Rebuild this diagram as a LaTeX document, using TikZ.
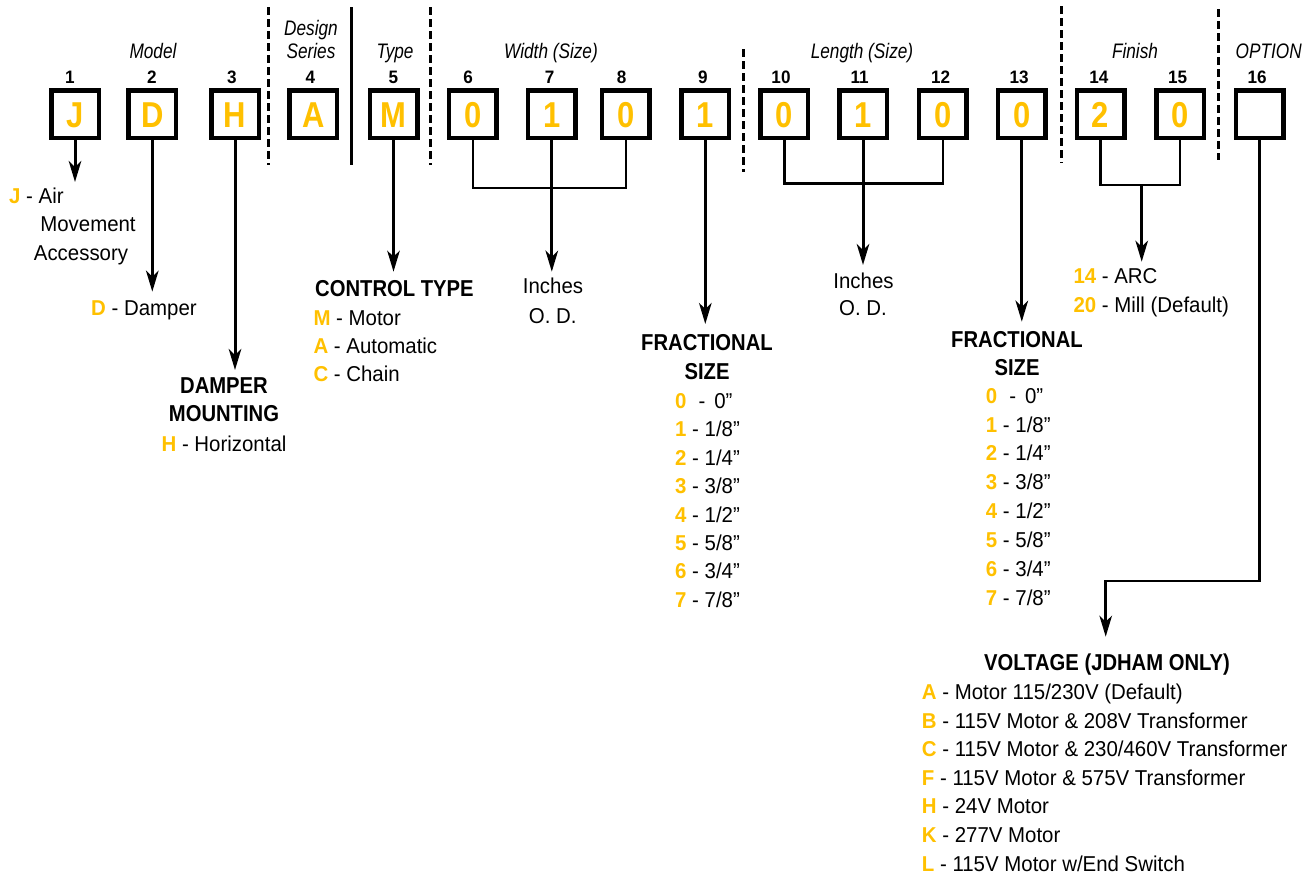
\documentclass[tikz,border=0pt]{standalone}
\usepackage{fontspec}
\setmainfont{Liberation Sans}[FakeStretch=0.95]
\newfontfamily\hdfont{Liberation Sans}[FakeStretch=0.88]
\newfontfamily\catfont{Liberation Sans}[FakeStretch=0.82]
\newfontfamily\boxfont{Liberation Sans}[FakeStretch=0.86]
\usetikzlibrary{arrows.meta}
\definecolor{codeor}{HTML}{FFC000}
\newcommand{\cd}[1]{\textcolor{codeor}{\bfseries #1}}
\begin{document}
\begin{tikzpicture}[x=1pt,y=-1pt,
  codebox/.style={draw, line width=4.5pt, minimum size=47.5pt, inner sep=0pt, text=codeor,
    font=\boxfont\bfseries\fontsize{36}{36}\selectfont, text height=26pt, text depth=0pt},
  body/.style={font=\fontsize{21.5}{24}\selectfont, inner sep=0pt},
  hd/.style={font=\hdfont\bfseries\fontsize{23}{26}\selectfont, inner sep=0pt},
  cat/.style={font=\catfont\itshape\fontsize{21}{24}\selectfont, inner sep=0pt, anchor=base},
  num/.style={font=\bfseries\fontsize{18}{20}\selectfont, inner sep=0pt, anchor=base},
  arr/.style={line width=3pt, -{Stealth[length=21pt,width=12.5pt,inset=6pt]}},
  brk/.style={line width=2.6pt},
  sepd/.style={line width=3pt, dash pattern=on 8pt off 4pt},
  seps/.style={line width=2.5pt}
]
\useasboundingbox (0,0) rectangle (1314,879);

% separators
\draw[sepd] (268.3,7) -- (268.3,165);
\draw[seps] (351.7,7) -- (351.7,165);
\draw[sepd] (430.5,7) -- (430.5,165);
\draw[sepd] (743.5,49) -- (743.5,172);
\draw[sepd] (1061,6) -- (1061,163);
\draw[sepd] (1218,9) -- (1218,160);

% category labels
\node[cat] (cModel) at (153,58) {Model};
\node[cat] (cDes) at (311,35) {Design};
\node[cat] (cSer) at (311,58.5) {Series};
\node[cat] (cType) at (395,58) {Type};
\node[cat] (cWid) at (551,58) {Width (Size)};
\node[cat] (cLen) at (862,58) {Length (Size)};
\node[cat] (cFin) at (1135,58) {Finish};
\node[cat] (cOpt) at (1268.7,58) {OPTION};

% position numbers
\node[num] (n1) at (70,83.3) {1};
\node[num] (n2) at (152,83.3) {2};
\node[num] (n3) at (232,83.3) {3};
\node[num] (n4) at (310.5,83.3) {4};
\node[num] (n5) at (393.3,83.3) {5};
\node[num] (n6) at (468,83.3) {6};
\node[num] (n7) at (549.5,83.3) {7};
\node[num] (n8) at (621.7,83.3) {8};
\node[num] (n9) at (702.8,83.3) {9};
\node[num] (n10) at (781,83.3) {10};
\node[num] (n11) at (859.7,83.3) {11};
\node[num] (n12) at (940.5,83.3) {12};
\node[num] (n13) at (1019,83.3) {13};
\node[num] (n14) at (1098.8,83.3) {14};
\node[num] (n15) at (1177.5,83.3) {15};
\node[num] (n16) at (1257,83.3) {16};

% code boxes
\node[codebox] (b1) at (75,114) {J};
\node[codebox] (b2) at (152.3,114) {D};
\node[codebox] (b3) at (235,114) {H};
\node[codebox] (b4) at (313.3,114) {A};
\node[codebox] (b5) at (393.5,114) {M};
\node[codebox] (b6) at (472.8,114) {0};
\node[codebox] (b7) at (551.8,114) {1};
\node[codebox] (b8) at (625.8,114) {0};
\node[codebox] (b9) at (705.3,114) {1};
\node[codebox] (b10) at (784.2,114) {0};
\node[codebox] (b11) at (863,114) {1};
\node[codebox] (b12) at (942.8,114) {0};
\node[codebox] (b13) at (1021.8,114) {0};
\node[codebox] (b14) at (1100.5,114) {2};
\node[codebox] (b15) at (1180,114) {0};
\node[codebox] (b16) at (1259.7,114) {};

% arrow end points
\coordinate (t1) at (b1.south |- 0,182);
\coordinate (t2) at (b2.south |- 0,291.7);
\coordinate (t3) at (b3.south |- 0,370);
\coordinate (t5) at (b5.south |- 0,271.7);
\coordinate (w7) at (b7.south |- 0,188);
\coordinate (t7) at (b7.south |- 0,271.7);
\coordinate (t9) at (b9.south |- 0,324);
\coordinate (w11) at (b11.south |- 0,183.3);
\coordinate (t11) at (b11.south |- 0,265);
\coordinate (t13) at (b13.south |- 0,321.7);
\coordinate (wf) at (1141.7,185);
\coordinate (tf) at (1141.7,261.7);
\coordinate (o1) at (1105.7,581);
\coordinate (t16) at (1105.7,636.7);

% connectors
\draw[arr] (b1.south) -- (t1);
\draw[arr] (b2.south) -- (t2);
\draw[arr] (b3.south) -- (t3);
\draw[arr] (b5.south) -- (t5);
\draw[brk] (b6.south) |- (w7) -| (b8.south);
\draw[arr] (b7.south) -- (t7);
\draw[arr] (b9.south) -- (t9);
\draw[brk] (b10.south) |- (w11) -| (b12.south);
\draw[arr] (b11.south) -- (t11);
\draw[arr] (b13.south) -- (t13);
\draw[brk] (b14.south) |- (wf) -| (b15.south);
\draw[arr] (wf) -- (tf);
\draw[arr, line width=2.6pt] (b16.south) |- (o1) -- (t16);

% Model texts
\node[body, anchor=base west] (jair) at (9,203.3) {\cd{J} - Air};
\node[body, anchor=base] (jmov) at (88,231.7) {Movement};
\node[body, anchor=base] (jacc) at (81,260) {Accessory};
\node[body, anchor=base west] (ddam) at (91,315.7) {\cd{D} - Damper};
\node[hd, anchor=base] (dm1) at (224,393.3) {DAMPER};
\node[hd, anchor=base] (dm2) at (224,421.7) {MOUNTING};
\node[body, anchor=base] (hhor) at (224,451.7) {\cd{H} - Horizontal};

% Control type
\node[hd, anchor=base west] (ct) at (315,296.7) {CONTROL TYPE};
\node[body, anchor=base west] (ctm) at (313.3,325) {\cd{M} - Motor};
\node[body, anchor=base west] (cta) at (313.3,353.3) {\cd{A} - Automatic};
\node[body, anchor=base west] (ctc) at (313.3,381.7) {\cd{C} - Chain};

% Inches
\node[body, anchor=base] (in1) at (553,293.3) {Inches};
\node[body, anchor=base] (od1) at (552.7,323.3) {O. D.};
\node[body, anchor=base] (in2) at (863.5,288.3) {Inches};
\node[body, anchor=base] (od2) at (863,315) {O. D.};

% Fractional size (9)
\node[hd, anchor=base] (fa1) at (707,350.7) {FRACTIONAL};
\node[hd, anchor=base] (fa2) at (707,379.3) {SIZE};
\node[body, anchor=base west] (fa0) at (675,408.3) {\cd{0}\hspace{12pt}-\hspace{9pt}0”};
\node[body, anchor=base west] (fa_1) at (675,436.7) {\cd{1} - 1/8”};
\node[body, anchor=base west] (fa_2) at (675,465.1) {\cd{2} - 1/4”};
\node[body, anchor=base west] (fa_3) at (675,493.6) {\cd{3} - 3/8”};
\node[body, anchor=base west] (fa_4) at (675,522.0) {\cd{4} - 1/2”};
\node[body, anchor=base west] (fa_5) at (675,550.5) {\cd{5} - 5/8”};
\node[body, anchor=base west] (fa_6) at (675,578.9) {\cd{6} - 3/4”};
\node[body, anchor=base west] (fa_7) at (675,607.3) {\cd{7} - 7/8”};

% Fractional size (13)
\node[hd, anchor=base] (fb1) at (1017,347.3) {FRACTIONAL};
\node[hd, anchor=base] (fb2) at (1017,375) {SIZE};
\node[body, anchor=base west] (fb0) at (985.7,403.3) {\cd{0}\hspace{12pt}-\hspace{9pt}0”};
\node[body, anchor=base west] (fb_1) at (985.7,432.1) {\cd{1} - 1/8”};
\node[body, anchor=base west] (fb_2) at (985.7,460.9) {\cd{2} - 1/4”};
\node[body, anchor=base west] (fb_3) at (985.7,489.7) {\cd{3} - 3/8”};
\node[body, anchor=base west] (fb_4) at (985.7,518.5) {\cd{4} - 1/2”};
\node[body, anchor=base west] (fb_5) at (985.7,547.4) {\cd{5} - 5/8”};
\node[body, anchor=base west] (fb_6) at (985.7,576.2) {\cd{6} - 3/4”};
\node[body, anchor=base west] (fb_7) at (985.7,605) {\cd{7} - 7/8”};

% Finish
\node[body, anchor=base west] (f14) at (1073.3,283.3) {\cd{14} - ARC};
\node[body, anchor=base west] (f20) at (1073.3,312.7) {\cd{20} - Mill (Default)};

% Voltage
\node[hd, anchor=base] (vh) at (1107,670.7) {VOLTAGE (JDHAM ONLY)};
\node[body, anchor=base west] (va) at (921.7,699.3) {\cd{A} - Motor 115/230V (Default)};
\node[body, anchor=base west] (vb) at (921.7,728.3) {\cd{B} - 115V Motor \& 208V Transformer};
\node[body, anchor=base west] (vc) at (921.7,756.7) {\cd{C} - 115V Motor \& 230/460V Transformer};
\node[body, anchor=base west] (vf) at (921.7,785) {\cd{F} - 115V Motor \& 575V Transformer};
\node[body, anchor=base west] (vhh) at (921.7,813.3) {\cd{H} - 24V Motor};
\node[body, anchor=base west] (vk) at (921.7,842.3) {\cd{K} - 277V Motor};
\node[body, anchor=base west] (vl) at (921.7,871) {\cd{L} - 115V Motor w/End Switch};
\end{tikzpicture}
\end{document}
